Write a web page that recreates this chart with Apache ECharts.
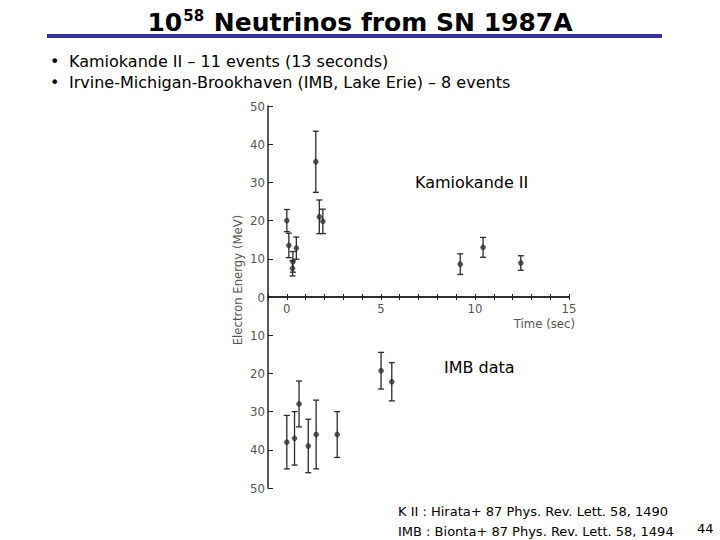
<!DOCTYPE html>
<html>
<head>
<meta charset="utf-8">
<script src="https://cdn.jsdelivr.net/npm/echarts@6/dist/echarts.min.js"></script>
<style>
html,body{margin:0;padding:0;background:#fff;}
#c{width:720px;height:540px;}
</style>
</head>
<body>
<div id="c"></div>
<script>
// ---- Data ----
// Kamiokande II events: time (s), electron energy (MeV), error (MeV)
var kamTime   = [0, 0.107, 0.303, 0.324, 0.507, 1.541, 1.728, 1.915, 9.219, 10.433, 12.439];
var kamEnergy = [20.0, 13.5, 7.5, 9.2, 12.8, 35.4, 21.0, 19.8, 8.6, 13.0, 8.9];
var kamError  = [2.9, 3.2, 2.0, 2.7, 2.9, 8.0, 4.4, 3.2, 2.7, 2.6, 1.9];
// IMB events (drawn on the mirrored lower panel)
var imbTime   = [0, 0.41, 0.65, 1.14, 1.56, 2.68, 5.01, 5.58];
var imbEnergy = [38, 37, 28, 39, 36, 36, 19.3, 22.2];
var imbError  = [7, 7, 6, 7, 9, 6, 4.8, 5];
// axis ticks
var xLabelTicks = [0, 5, 10, 15];

var kamPts = kamTime.map(function(t, i){ return [t, kamEnergy[i]]; });
var kamBars = kamTime.map(function(t, i){ return [t, kamEnergy[i] - kamError[i], kamEnergy[i] + kamError[i]]; });
var imbPts = imbTime.map(function(t, i){ return [t, imbEnergy[i]]; });
var imbBars = imbTime.map(function(t, i){ return [t, imbEnergy[i] - imbError[i], imbEnergy[i] + imbError[i]]; });

var plotFont = "'Liberation Sans Narrow', 'DejaVu Sans Condensed', sans-serif";
var slideFont = "'DejaVu Sans', Verdana, sans-serif";

function errRender(params, api){
  var x = api.value(0);
  var lo = api.coord([x, api.value(1)]);
  var hi = api.coord([x, api.value(2)]);
  var w = 3;
  var st = {stroke: '#2a2a2a', lineWidth: 1.3};
  return {
    type: 'group',
    children: [
      {type: 'line', shape: {x1: lo[0], y1: lo[1], x2: hi[0], y2: hi[1]}, style: st},
      {type: 'line', shape: {x1: lo[0]-w, y1: lo[1], x2: lo[0]+w, y2: lo[1]}, style: st},
      {type: 'line', shape: {x1: hi[0]-w, y1: hi[1], x2: hi[0]+w, y2: hi[1]}, style: st}
    ]
  };
}

var axisColor = '#222';
var labelStyle = {color: '#555', fontFamily: plotFont, fontSize: 13};

var chart = echarts.init(document.getElementById('c'), null, {renderer: 'svg'});
chart.setOption({
  backgroundColor: '#fff',
  animation: false,
  title: {
    text: '{b|10}{s|58}{b| Neutrinos from SN 1987A}',
    left: 'center',
    top: 3,
    textStyle: {
      rich: {
        b: {fontFamily: slideFont, fontWeight: 'bold', fontSize: 25, color: '#000'},
        s: {fontFamily: slideFont, fontWeight: 'bold', fontSize: 15, color: '#000', padding: [0, 1, 13, 1]}
      }
    }
  },
  grid: [
    {left: 268, right: 151, top: 106, height: 191, containLabel: false},
    {left: 268, right: 151, top: 297, height: 191, containLabel: false}
  ],
  xAxis: [{
    gridIndex: 0, type: 'value', min: -1, max: 15, interval: 1, position: 'bottom',
    axisLine: {onZero: false, lineStyle: {color: axisColor, width: 1.5}},
    axisTick: {inside: true, length: 3, lineStyle: {color: axisColor}},
    splitLine: {show: false},
    axisLabel: Object.assign({margin: 5, formatter: function(v){ return xLabelTicks.indexOf(v) >= 0 ? String(v) : ''; }}, labelStyle)
  }, {
    gridIndex: 1, type: 'value', min: -1, max: 15, interval: 1, position: 'top',
    axisLine: {onZero: false, lineStyle: {color: axisColor, width: 1.5}},
    axisTick: {inside: true, length: 3, lineStyle: {color: axisColor}},
    splitLine: {show: false},
    axisLabel: {show: false}
  }],
  yAxis: [{
    gridIndex: 0, type: 'value', min: 0, max: 50, interval: 10,
    axisLine: {onZero: false, lineStyle: {color: axisColor, width: 1.5}},
    axisTick: {inside: true, length: 5, lineStyle: {color: axisColor}},
    splitLine: {show: false},
    axisLabel: Object.assign({margin: 3}, labelStyle)
  }, {
    gridIndex: 1, type: 'value', min: 0, max: 50, interval: 10, inverse: true,
    axisLine: {onZero: false, lineStyle: {color: axisColor, width: 1.5}},
    axisTick: {inside: true, length: 5, lineStyle: {color: axisColor}},
    splitLine: {show: false},
    axisLabel: Object.assign({margin: 3, formatter: function(v){ return v === 0 ? '' : String(v); }}, labelStyle)
  }],
  series: [
    {type: 'custom', renderItem: errRender, data: kamBars, xAxisIndex: 0, yAxisIndex: 0, encode: {x: 0, y: [1, 2]}, z: 2},
    {type: 'custom', renderItem: errRender, data: imbBars, xAxisIndex: 1, yAxisIndex: 1, encode: {x: 0, y: [1, 2]}, z: 2},
    {type: 'scatter', data: kamPts, xAxisIndex: 0, yAxisIndex: 0, symbol: 'circle', symbolSize: 5,
     itemStyle: {color: '#333', borderColor: '#111', borderWidth: 0.5}, z: 3},
    {type: 'scatter', data: imbPts, xAxisIndex: 1, yAxisIndex: 1, symbol: 'circle', symbolSize: 5,
     itemStyle: {color: '#333', borderColor: '#111', borderWidth: 0.5}, z: 3}
  ],
  graphic: [
    {type: 'rect', shape: {x: 47, y: 34, width: 615, height: 4}, style: {fill: '#333399'}},
    {type: 'text', left: 50, top: 53, style: {text: '•', font: '16px ' + slideFont, fill: '#000'}},
    {type: 'text', left: 69, top: 53, style: {text: 'Kamiokande II – 11 events (13 seconds)', font: '16px ' + slideFont, fill: '#000'}},
    {type: 'text', left: 50, top: 74, style: {text: '•', font: '16px ' + slideFont, fill: '#000'}},
    {type: 'text', left: 69, top: 74, style: {text: 'Irvine-Michigan-Brookhaven (IMB, Lake Erie) – 8 events', font: '16px ' + slideFont, fill: '#000'}},
    {type: 'text', x: 415, y: 182, style: {text: 'Kamiokande II', font: '16px ' + slideFont, fill: '#000', textVerticalAlign: 'middle'}},
    {type: 'text', x: 444, y: 367, style: {text: 'IMB data', font: '16px ' + slideFont, fill: '#000', textVerticalAlign: 'middle'}},
    {type: 'text', x: 575, y: 323, style: {text: 'Time (sec)', font: '13px ' + plotFont, fill: '#555', textAlign: 'right', textVerticalAlign: 'middle'}},
    {type: 'text', x: 237, y: 280, rotation: Math.PI / 2,
     style: {x: 0, y: 0, text: 'Electron Energy (MeV)', font: '13px ' + plotFont, fill: '#555', textAlign: 'center', textVerticalAlign: 'middle'}},
    {type: 'text', left: 398, top: 505, style: {text: 'K II : Hirata+ 87 Phys. Rev. Lett. 58, 1490', font: '13px ' + slideFont, fill: '#000'}},
    {type: 'text', left: 398, top: 525, style: {text: 'IMB : Bionta+ 87 Phys. Rev. Lett. 58, 1494', font: '13px ' + slideFont, fill: '#000'}},
    {type: 'text', left: 697, top: 522, style: {text: '44', font: '13px ' + slideFont, fill: '#000'}}
  ]
});
</script>
</body>
</html>
